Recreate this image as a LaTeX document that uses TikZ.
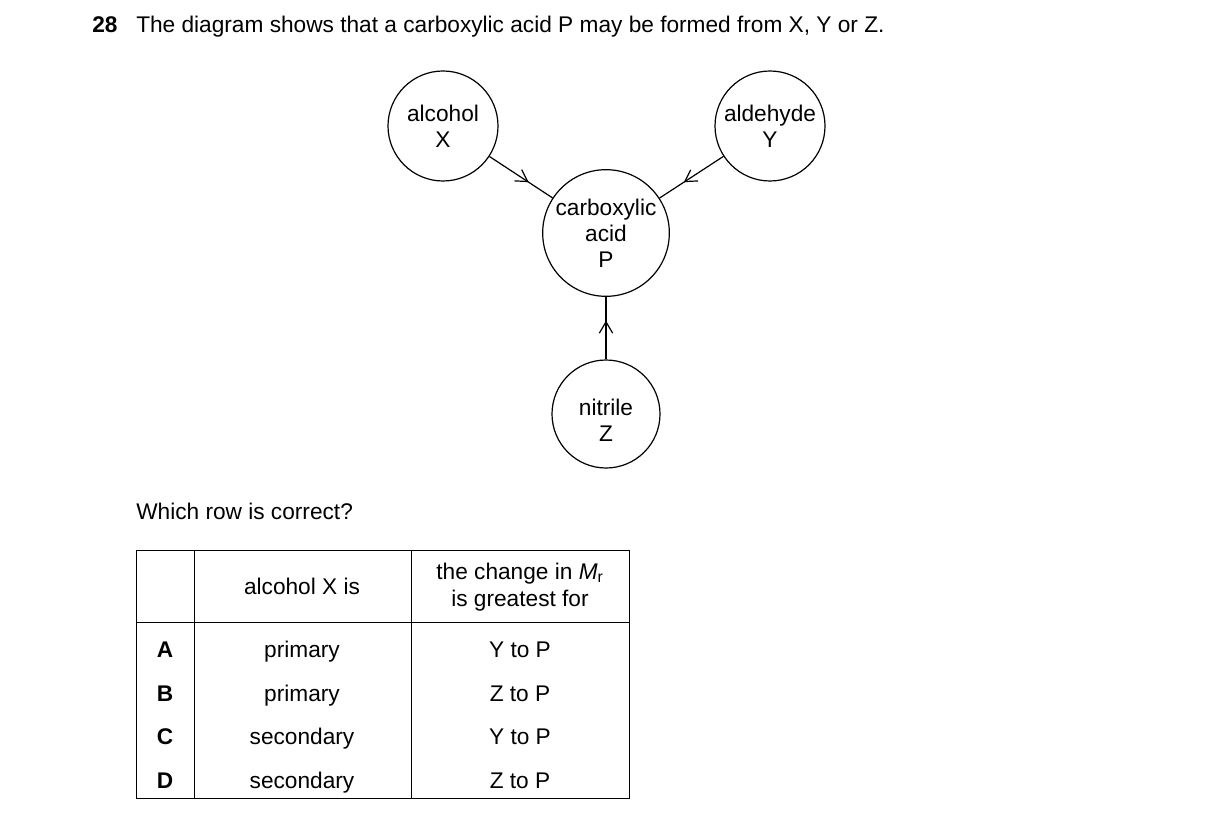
\documentclass[tikz,border=0pt]{standalone}
\usepackage{fontspec}
\setmainfont{Liberation Sans}
\usetikzlibrary{arrows.meta,decorations.markings}

\tikzset{
  species/.style={draw, circle, line width=0.9pt, inner sep=0pt, align=center,
    font=\fontsize{17}{19.5}\selectfont},
  route/.style={line width=0.9pt, postaction={decorate},
    decoration={markings, mark=at position 0.62 with {\arrow{Straight Barb[length=8.5pt,width=10pt,line width=0.9pt]}}}},
  cell/.style={anchor=base, inner sep=0pt, font=\fontsize{17}{20}\selectfont, align=center},
  plain/.style={anchor=base west, inner sep=0pt, font=\fontsize{17}{20}\selectfont}
}

\begin{document}
\begin{tikzpicture}[x=0.75pt, y=-0.75pt]
\useasboundingbox (0,0) rectangle (1216,823);

% Question text
\node[plain, font=\fontsize{17}{20}\selectfont\bfseries] (qnum) at (92,33) {28};
\node[plain] (qtext) at (136,33)
  {The diagram shows that a carboxylic acid P may be formed from X, Y or Z.};

% Species
\node[species, minimum size=82.5pt] (X) at (443,126) {alcohol\\X};
\node[species, minimum size=82.5pt] (Y) at (770,126) {aldehyde\\Y};
\node[species, minimum size=95pt] (P) at (606,233) {carboxylic\\acid\\P};
\node[species, minimum size=81pt] (Z) at (606,414) {};
\node[species, draw=none, yshift=-4.5pt] (Ztext) at (Z.center) {nitrile\\Z};

% Routes to P
\draw[route] (X) -- (P);
\draw[route] (Y) -- (P);
\draw[route] (Z) -- (P);

\node[plain] (ask) at (136,519) {Which row is correct?};

% Table
\draw[line width=0.75pt] (136,550) rectangle (629,798);
\draw[line width=0.75pt] (136,622) -- (629,622);
\draw[line width=0.75pt] (194,550) -- (194,798);
\draw[line width=0.75pt] (411,550) -- (411,798);

\node[cell] (h2) at (302,594) {alcohol X is};
\node[cell, anchor=center] (h3) at (520,587) {the change in \textit{M}\textsubscript{r}\\is greatest for};

\foreach \key/\alc/\rt/\y in {A/primary/Y/657, B/primary/Z/701, C/secondary/Y/744, D/secondary/Z/788}{
  \node[cell, font=\fontsize{17}{20}\selectfont\bfseries] (k\key) at (165,\y) {\key};
  \node[cell] (a\key) at (302,\y) {\alc};
  \node[cell] (r\key) at (520,\y) {\rt{} to P};
}

\end{tikzpicture}
\end{document}
